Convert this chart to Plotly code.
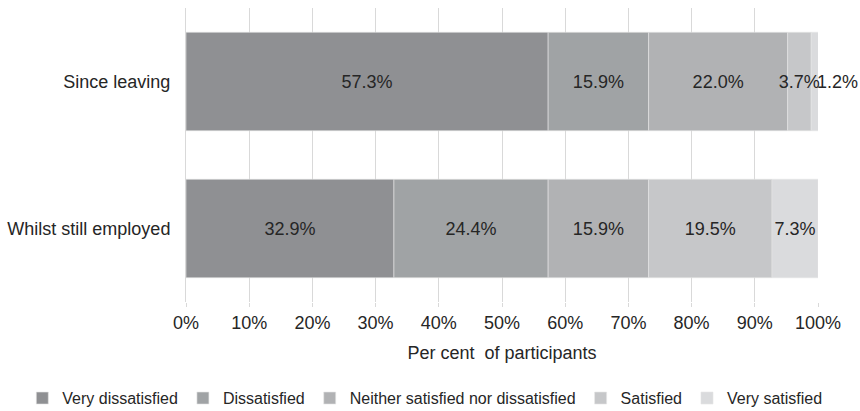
import numpy as np
import plotly.graph_objects as go

categories = ["Since leaving", "Whilst still employed"]
series_names = ["Very dissatisfied", "Dissatisfied", "Neither satisfied nor dissatisfied",
                "Satisfied", "Very satisfied"]
very_dissatisfied = [57.3, 32.9]
dissatisfied = [15.9, 24.4]
neither = [22.0, 15.9]
satisfied = [3.7, 19.5]
very_satisfied = [1.2, 7.3]
colors = ["#8f9093", "#a0a3a5", "#b1b2b4", "#c6c7c9", "#dadbdd"]
tick_vals = [0, 10, 20, 30, 40, 50, 60, 70, 80, 90, 100]
tick_text = [f"{v}%" for v in tick_vals]

series = [very_dissatisfied, dissatisfied, neither, satisfied, very_satisfied]
arr = np.array(series)
bases = np.vstack([np.zeros(arr.shape[1]), np.cumsum(arr, axis=0)[:-1]])
totals = arr.sum(axis=0)

font_family = "Liberation Sans, Arial, sans-serif"
text_color = "#262626"

traces = []
for i, (name, color, vals) in enumerate(zip(series_names, colors, series)):
    small = [v < 2 for v in vals]
    traces.append(go.Bar(
        y=categories, x=vals, base=bases[i], name=name, orientation="h",
        marker=dict(color=color, line=dict(color="#e6e6e6", width=0.6)),
        text=["" if s else f"{v:.1f}%" for v, s in zip(vals, small)],
        textposition="inside",
        insidetextanchor="middle",
        textangle=0,
        constraintext="none",
        cliponaxis=False,
        textfont=dict(family=font_family, size=18, color=text_color),
        width=0.67,
        legendrank=i + 1,
    ))

# draw order: the last (thin) segment before its neighbour so neighbour's label is on top
order = [0, 1, 2, 4, 3]
fig = go.Figure([traces[k] for k in order])

# labels of segments too thin to hold text: placed just past the stack end
for cat, v, tot in zip(categories, very_satisfied, totals):
    if v < 2:
        fig.add_annotation(x=min(tot, 100), y=cat, text=f"{v:.1f}%", showarrow=False,
                           xanchor="left", xshift=-3,
                           font=dict(family=font_family, size=18, color=text_color))

fig.update_layout(
    barmode="overlay",
    width=860, height=411,
    margin=dict(l=186, r=42, t=8, b=109, autoexpand=False),
    paper_bgcolor="white", plot_bgcolor="white",
    font=dict(family=font_family, size=18, color=text_color),
    showlegend=True,
    legend=dict(orientation="h", x=-0.259, xanchor="left", y=-0.327, yanchor="middle",
                font=dict(size=16, color=text_color), traceorder="normal",
                tracegroupgap=0),
)
fig.update_xaxes(
    range=[0, 100], tickvals=tick_vals, ticktext=tick_text,
    showgrid=True, gridcolor="#d9d9d9", gridwidth=1,
    ticks="outside", ticklen=4, tickcolor="#d9d9d9",
    zeroline=False, showline=False, automargin=False,
    tickfont=dict(size=18, color=text_color),
    title=dict(text="Per cent  of participants", font=dict(size=18, color=text_color), standoff=14),
)
fig.update_yaxes(
    categoryorder="array", categoryarray=categories, autorange="reversed",
    showline=True, linecolor="#d9d9d9", automargin=False,
    ticks="", ticklabelstandoff=11,
    tickfont=dict(size=18, color=text_color),
)

fig.write_html("out.html")
